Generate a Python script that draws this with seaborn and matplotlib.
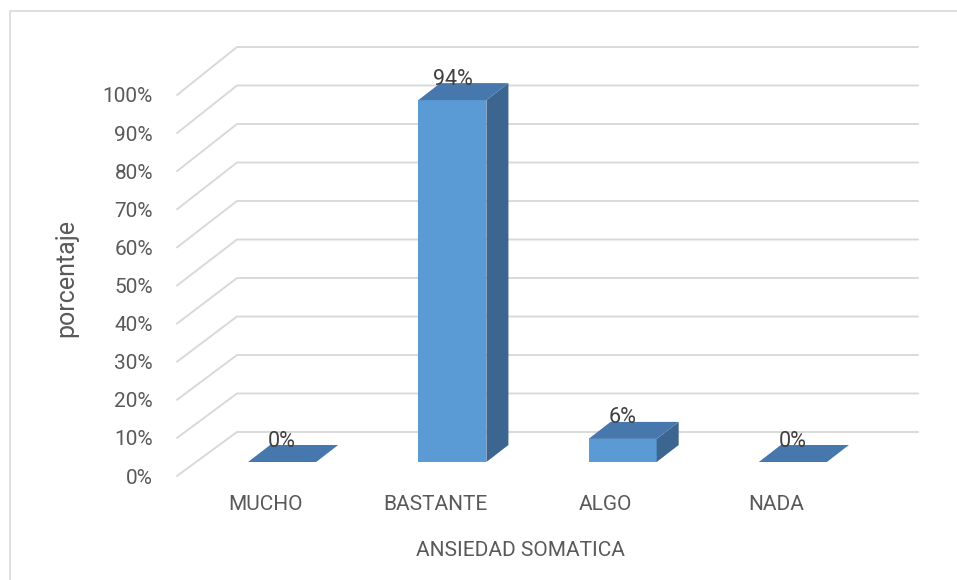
import numpy as np
import pandas as pd
import matplotlib
matplotlib.use("Agg")
import matplotlib.pyplot as plt
import seaborn as sns
from matplotlib.patches import Polygon, Rectangle
from matplotlib.transforms import blended_transform_factory

# ---- data ----
categories = ["MUCHO", "BASTANTE", "ALGO", "NADA"]
values = [0, 94, 6, 0]
tick_values = [0, 10, 20, 30, 40, 50, 60, 70, 80, 90, 100]
tick_labels = [f"{v}%" for v in tick_values]
x_title = "ANSIEDAD SOMATICA"
y_title = "porcentaje"

sns.set_theme(style="white")
plt.rcParams["font.family"] = ["Roboto", "DejaVu Sans"]

TXT = "#595959"
GRID = "#d9d9d9"
FRONT = "#5b9bd5"
TOP = "#4678ad"
SIDE = "#3c6690"

W, H = 957, 580
fig = plt.figure(figsize=(W / 100, H / 100), dpi=100)
fig.patch.set_facecolor("white")

# chart border (light grey, open on right/bottom)
fig.add_artist(Rectangle((10 / W, -0.05), 1.0, (H - 11) / H + 0.05,
                         transform=fig.transFigure, fill=False,
                         edgecolor=GRID, linewidth=1.2))

# label axes (front edge of the 3D box)
ax_t = fig.add_axes([180 / W, (H - 476) / H, 681 / W, 419.1 / H])
# plot axes (bars)
ax = fig.add_axes([197 / W, (H - 462) / H, 681 / W, 423.5 / H])
for a in (ax, ax_t):
    a.patch.set_visible(False)
    for s in a.spines.values():
        s.set_visible(False)

df = pd.DataFrame({"cat": categories, "val": values})
sns.barplot(data=df, x="cat", y="val", order=categories, color=FRONT,
            saturation=1, width=0.4, linewidth=0, ax=ax, zorder=3)
ax.set_xlim(-0.5, 3.5)
ax.set_ylim(0, 110)
ax.set_xticks([])
ax.set_yticks([])
ax.set_xlabel("")
ax.set_ylabel("")

# back-wall gridlines with side-wall diagonals
px_per_unit = 3.85
tr = blended_transform_factory(ax.transAxes, ax.transData)
for v in tick_values:
    yf = (3.81 * v - 14) / px_per_unit
    yb = v + 30 / px_per_unit
    ax.plot([-20 / 681, 40 / 681, 721 / 681], [yf, yb, yb], transform=tr,
            color=GRID, lw=1.4, zorder=0, clip_on=False,
            solid_capstyle="round")

# 3D faces
ddx, ddy = 22 / 170.25, 17 / px_per_unit
for p, v in zip(ax.patches, values):
    x0, w, h = p.get_x(), p.get_width(), p.get_height()
    top = Polygon([(x0, h), (x0 + w, h), (x0 + w + ddx, h + ddy), (x0 + ddx, h + ddy)],
                  closed=True, facecolor=TOP, edgecolor="none", zorder=4, clip_on=False)
    side = Polygon([(x0 + w, 0), (x0 + w + ddx, ddy), (x0 + w + ddx, h + ddy), (x0 + w, h)],
                   closed=True, facecolor=SIDE, edgecolor="none", zorder=4, clip_on=False)
    ax.add_patch(side)
    ax.add_patch(top)
    ax.text(x0 + w / 2, h + ddy - 0.4, f"{v}%", ha="center", va="baseline",
            fontsize=15.5, color="#404040", zorder=5)

# axis labels on front axes
ax_t.set_xlim(-0.5, 3.5)
ax_t.set_ylim(0, 110)
ax_t.set_yticks(tick_values, tick_labels)
ax_t.set_xticks(range(len(categories)), categories)
ax_t.tick_params(axis="y", length=0, pad=19.4, labelsize=15, labelcolor=TXT)
ax_t.tick_params(axis="x", length=0, pad=14, labelsize=15, labelcolor=TXT)
ax_t.set_xlabel(x_title, fontsize=15, color=TXT)
ax_t.set_ylabel(y_title, fontsize=18, color=TXT)
ax_t.xaxis.set_label_coords(0.5, (476 - 551) / 419.1)
ax_t.xaxis.label.set_verticalalignment("center")
ax_t.yaxis.set_label_coords((66 - 180) / 681, (476 - 278) / 419.1)
ax_t.yaxis.label.set_verticalalignment("center")

fig.savefig("out.png", dpi=100)
